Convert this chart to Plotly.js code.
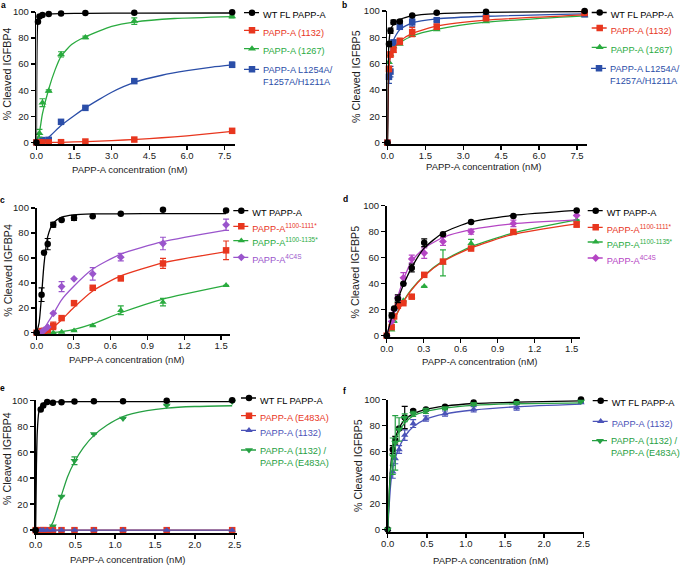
<!DOCTYPE html>
<html>
<head>
<meta charset="utf-8">
<script src="https://cdn.plot.ly/plotly-3.0.1.min.js"></script>
<style>html,body{margin:0;padding:0;background:#fff;}#chart{width:685px;height:565px;}</style>
</head>
<body>
<div id="chart"></div>
<script>
// ---------------- DATA ----------------
// Panel a / b (IGFBP4 / IGFBP5, full range)
const concAB = [0, 0.06, 0.12, 0.24, 0.49, 0.98, 1.95, 3.9, 7.8];
const a_wt    = [0, 92.5, 96.5, 97.7, 98.5, 98.8, 99.2, 99.4, 99.8];
const a_1132  = [0, 0, 0, 0, 0, 0.2, 0.7, 2.2, 8.9];
const a_1267  = [0, 1, 7, 30.5, 39.5, 67.5, 80.5, 93, 96.5];
const a_1267e = [0, 0, 3, 3, 0.8, 2, 1, 2.5, 1];
const a_tri   = [0, 0, 0.5, 1.8, 2, 15.8, 26.5, 47, 59.5];
const a_trie  = [0, 0, 0, 0, 0, 0, 0, 0, 2];
const fitA_wt_x   = [0, 0.01, 0.02, 0.04, 0.06, 0.1, 0.2, 0.5, 1, 2, 4, 7.8];
const fitA_wt_y   = [0, 45, 70, 88, 93.5, 96.8, 98.2, 98.6, 98.8, 99, 99.1, 99.2];
const fitA_1132_x = [0, 1, 2, 3, 4, 5, 6, 7, 7.8];
const fitA_1132_y = [0, 0.1, 0.7, 1.4, 2.4, 3.6, 5.1, 7, 8.5];
const fitA_1267_x = [0, 0.12, 0.24, 0.49, 0.75, 0.98, 1.4, 1.95, 3, 3.9, 5.5, 7.8];
const fitA_1267_y = [0, 8, 22, 41, 56, 66, 75, 81, 89, 92.3, 95, 96.5];
const fitA_tri_x  = [0, 0.24, 0.49, 0.98, 1.5, 1.95, 2.5, 3, 3.9, 5, 6, 7, 7.8];
const fitA_tri_y  = [0, 1, 4, 13, 20.5, 26.5, 33, 38.5, 46, 51.5, 55, 57.8, 59.5];

const b_wt    = [0, 75, 85, 91.5, 92, 96.5, 98.7, 99.5, 100];
const b_wte   = [0, 2, 2, 1.5, 1, 0.5, 0.5, 0.3, 0.3];
const b_1132  = [0, 56, 67, 70.5, 77, 84, 88, 94.5, 98.5];
const b_1132e = [0, 2, 2, 2, 2.5, 3.5, 2, 1, 0.5];
const b_1267  = [0, 61, 67, 73, 75, 81.5, 86, 92, 96.5];
const b_tri   = [0, 50, 54, 76, 88, 91.5, 93, 95.5, 97.5];
const b_trie  = [0, 5, 4, 2, 2, 3, 1, 1, 0.5];
const fitB_x      = [0, 0.03, 0.06, 0.12, 0.24, 0.49, 0.98, 1.95, 3.9, 7.8];
const fitB_wt_y   = [0, 55, 76, 85, 90, 93.5, 96.3, 98, 99, 99.5];
const fitB_1132_y = [0, 40, 58, 65, 71, 77, 83, 88.5, 93, 97];
const fitB_1267_y = [0, 45, 62, 68, 72.5, 76, 81, 86, 91.5, 96.3];
const fitB_tri_y  = [0, 35, 55, 68, 78, 86, 91, 94, 96, 97.8];

// Panel c / d (truncation mutants)
const concCD = [0, 0.04, 0.06, 0.09, 0.135, 0.203, 0.304, 0.456, 0.684, 1.027, 1.54];
const c_wt    = [0, 30.5, 64, 71, 86.5, 90.3, 92, 93.3, 95.3, 98.5, 98];
const c_wte   = [0, 5.5, 0, 4.5, 2, 0, 2, 0, 0, 0, 0];
const c_1111  = [0, 1.3, 1.5, 2, 5.5, 11.7, 23.7, 36, 43.5, 55.5, 66];
const c_1111e = [0, 0, 0, 0, 3, 0, 0, 0, 0, 4, 7.5];
const c_1135  = [0, 0, 0, 0, 0, 0.5, 1.6, 5.6, 18, 24.5, 38];
const c_1135e = [0, 0, 0, 0, 0, 0, 0, 0, 3.5, 3, 0];
const c_4c4s  = [0, 0.5, 2, 4.5, 15.5, 37, 43.2, 47.2, 60.5, 71.5, 86.5];
const c_4c4se = [0, 0, 0, 0, 0, 4, 0, 5, 3, 5, 4.5];
const fitC_x      = [0, 0.02, 0.04, 0.06, 0.09, 0.135, 0.2, 0.3, 0.456, 0.684, 1.027, 1.54];
const fitC_wt_y   = [0, 8, 30, 55, 77, 88, 92.5, 94.5, 95.2, 95.3, 95.4, 95.4];
const fitC_1111_y = [0, 0, 0.3, 0.8, 2, 4.5, 10, 20, 33.5, 45.5, 56, 65];
const fitC_1135_y = [0, 0, 0, 0, 0.1, 0.3, 0.9, 2.5, 7, 16, 27, 38];
const fitC_4c4s_y = [0, 0, 1, 3, 8, 15, 26, 37, 51, 63, 73, 82.3];

const d_wt    = [0, 15.6, 21, 28.5, 40, 52, 71.5, 78, 87.5, 92, 96.3];
const d_wte   = [0, 2, 0, 3, 0, 3, 3, 0, 0, 0, 0];
const d_1111  = [0, 6.6, 14.8, 23, 25, 30, 46.8, 57, 67, 79.8, 85.5];
const d_1111e = [0, 0, 0, 0, 0, 0, 0, 0, 0, 0, 2];
const d_1135  = [0, 4.5, 11, 27, 27, 30, 38, 56, 71, 79, 89];
const d_1135e = [0, 0, 0, 3, 0, 0, 0, 10, 3, 0, 0];
const d_4c4s  = [0, 11, 20, 29, 44.5, 59, 63.5, 72.5, 80, 86.3, 92.5];
const d_4c4se = [0, 0, 0, 2, 4, 3, 4, 3, 2, 2.5, 0];
const fitD_x      = [0, 0.04, 0.06, 0.09, 0.135, 0.2, 0.3, 0.456, 0.684, 1.027, 1.54];
const fitD_wt_y   = [0, 14, 20, 28, 39, 52, 67, 79, 87.5, 92.5, 96.3];
const fitD_1111_y = [0, 8, 12, 18, 26, 35, 45.5, 57, 67.5, 78, 86];
const fitD_1135_y = [0, 8, 12.5, 18.5, 26.5, 35.5, 46, 57.5, 68.5, 79, 89];
const fitD_4c4s_y = [0, 13, 20, 30, 43, 57, 67, 75.5, 81.5, 86, 89];

// Panel e / f (E483A complementation)
const concEF = [0, 0.064, 0.096, 0.145, 0.217, 0.325, 0.488, 0.732, 1.098, 1.647, 2.47];
const e_wt    = [0, 93, 96, 98.7, 98.2, 98.5, 99, 99.2, 99.2, 99.7, 100];
const e_e483a = [0, 0, 0, 0, 0, 0, 0, 0, 0, 0, 0];
const e_1132  = [0, 0, 0, 0, 0, 0, 0, 0, 0, 0, 0];
const e_combo = [0, 0, 0, 1, 3, 26, 53.5, 74, 86, 96, 99];
const e_comboe= [0, 0, 0, 0, 0, 0, 3, 0, 0, 0, 0];
const fitE_wt_x    = [0, 0.01, 0.02, 0.04, 0.064, 0.1, 0.15, 0.25, 0.5, 1, 1.5, 2, 2.47];
const fitE_wt_y    = [0, 50, 75, 91, 95.5, 97.8, 98.5, 98.8, 98.9, 99, 99, 99, 99];
const fitE_zero_x  = [0, 2.47];
const fitE_zero_y  = [0, 0];
const fitE_combo_x = [0, 0.1, 0.15, 0.217, 0.325, 0.4, 0.488, 0.6, 0.732, 0.9, 1.098, 1.4, 1.647, 2, 2.47];
const fitE_combo_y = [0, 0, 0.5, 6, 27, 41, 52.5, 63.5, 73, 81, 87.5, 92, 94, 95.2, 95.8];

const f_wt    = [0, 61.5, 68.7, 77.7, 86.2, 91.3, 92.3, 94.4, 97.7, 98.2, 100];
const f_wte   = [0, 3, 3, 0, 8.5, 1, 0, 0, 0, 0, 0];
const f_1132  = [0, 44.4, 54.6, 61.5, 72.6, 81.5, 85.4, 89.2, 92.6, 93.9, 97.7];
const f_1132e = [0, 5, 4, 3, 4, 3, 2, 2, 2, 2, 0];
const f_combo = [0, 56.4, 66.7, 77, 86, 89, 91.3, 93.3, 96.5, 97.5, 98.5];
const f_comboe= [0, 14, 21, 9, 3, 2, 2, 1, 1, 1, 0];
const fitF_x       = [0, 0.02, 0.04, 0.064, 0.096, 0.145, 0.217, 0.325, 0.488, 0.732, 1.098, 1.647, 2.47];
const fitF_wt_y    = [0, 30, 50, 62, 70, 78, 84.5, 89, 92.5, 95, 97, 98, 99];
const fitF_combo_y = [0, 28, 47, 58, 68, 75.5, 82, 87.5, 91, 93.5, 95.5, 96.8, 97.5];
const fitF_1132_y  = [0, 20, 36, 47, 55, 63, 71.5, 79, 85, 89, 92, 94.5, 96.5];

// Labels
const labA = ['WT FL PAPP-A', 'PAPP-A (1132)', 'PAPP-A (1267)', 'PAPP-A L1254A/<br>F1257A/H1211A'];
const labC = ['WT PAPP-A', 'PAPP-A<sup>1100-1111*</sup>', 'PAPP-A<sup>1100-1135*</sup>', 'PAPP-A<sup>4C4S</sup>'];
const labE = ['WT FL PAPP-A', 'PAPP-A (E483A)', 'PAPP-A (1132)', 'PAPP-A (1132) /<br>PAPP-A (E483A)'];
const labF = ['WT FL PAPP-A', 'PAPP-A (1132)', 'PAPP-A (1132) /<br>PAPP-A (E483A)'];
const xTitle = 'PAPP-A concentration (nM)';
const yTitles = ['% Cleaved IGFBP4', '% Cleaved IGFBP5', '% Cleaved IGFBP4', '% Cleaved IGFBP5', '% Cleaved IGFBP4', '% Cleaved IGFBP5'];
const panelLetters = ['a', 'b', 'c', 'd', 'e', 'f'];

// ---------------- STYLE / LAYOUT ----------------
const W = 685, H = 565;
const FONT = 'Liberation Sans, Arial, Helvetica, sans-serif';
const BLACK = '#000000', RED = '#e8361e', GREEN = '#2aab3f', BLUE = '#2b4ea8',
      PURPLE = '#9a55cc', MAGENTA = '#b545c4', LAV = '#4b53b8', GREEN2 = '#26a043';

const px2x = p => p / W;
const px2y = p => 1 - p / H;

// panel geometry in pixels: [left, right, top, bottom]; title / letter positions in pixels
const panels = [
  {box: [36.5, 235, 11, 143],        xr: [0, 7.9],  yr: [-1, 100],   dt: 1.5, lp: [4, 4],       xt: [129.7, 168.3], yt: [7.3, 73]},
  {box: [388, 588, 10, 143.3],       xr: [0, 7.9],  yr: [-1, 100],   dt: 1.5, lp: [345, 4.5],   xt: [483.8, 165.7], yt: [356.7, 76]},
  {box: [36.7, 230.1, 207.3, 333.3], xr: [0, 1.57], yr: [-0.8, 100], dt: 0.3, lp: [3, 199],     xt: [127, 359],     yt: [7.3, 270]},
  {box: [387.3, 581.2, 205, 336.6],  xr: [0, 1.57], yr: [-1, 100],   dt: 0.3, lp: [346, 198],   xt: [480.5, 360.7], yt: [356, 271.5]},
  {box: [35.7, 237.3, 400, 532.7],   xr: [0, 2.53], yr: [-2, 100],   dt: 0.5, lp: [3, 388],     xt: [127.7, 559],   yt: [6.7, 458]},
  {box: [388.3, 585, 399.3, 531.7],  xr: [0, 2.51], yr: [-1.8, 100], dt: 0.5, lp: [345.5, 390.5], xt: [491.3, 560.3], yt: [358.3, 465]}
];

const layout = {
  width: W, height: H,
  margin: {l: 0, r: 0, t: 0, b: 0, pad: 0},
  paper_bgcolor: '#ffffff', plot_bgcolor: 'rgba(0,0,0,0)',
  font: {family: FONT, size: 9.5, color: '#1a1a1a'},
  showlegend: true,
  annotations: []
};

panels.forEach((p, i) => {
  const n = i === 0 ? '' : String(i + 1);
  const common = {
    showline: true, linewidth: 1.8, linecolor: '#000', mirror: false,
    ticks: 'outside', ticklen: 4, tickwidth: 1.5, tickcolor: '#000',
    showgrid: false, zeroline: false, fixedrange: true,
    tickfont: {family: FONT, size: 9.5, color: '#1a1a1a'}
  };
  layout['xaxis' + n] = Object.assign({}, common, {
    domain: [px2x(p.box[0]), px2x(p.box[1])],
    range: p.xr, anchor: 'y' + n, tickmode: 'linear', tick0: 0, dtick: p.dt,
    tickformat: '.1f', ticklabelstandoff: -2
  });
  layout['yaxis' + n] = Object.assign({}, common, {
    domain: [px2y(p.box[3]), px2y(p.box[2])],
    range: p.yr, anchor: 'x' + n, tickmode: 'linear', tick0: 0, dtick: 20
  });
  layout.annotations.push({
    xref: 'paper', yref: 'paper', x: px2x(p.lp[0]), y: px2y(p.lp[1]),
    xanchor: 'center', yanchor: 'middle', showarrow: false,
    text: '<b>' + panelLetters[i] + '</b>', font: {family: FONT, size: 8.5, color: '#000'}
  });
  layout.annotations.push({
    xref: 'paper', yref: 'paper', x: px2x(p.xt[0]), y: px2y(p.xt[1]),
    xanchor: 'center', yanchor: 'middle', showarrow: false,
    text: xTitle, font: {family: FONT, size: 9.5, color: '#1a1a1a'}
  });
  layout.annotations.push({
    xref: 'paper', yref: 'paper', x: px2x(p.yt[0]), y: px2y(p.yt[1]),
    xanchor: 'center', yanchor: 'middle', showarrow: false, textangle: -90,
    text: yTitles[i], font: {family: FONT, size: 10.7, color: '#1a1a1a'}
  });
});

const traces = [];
let legendCount = 0;
function addLegend(textX, centerY, twoLine) {
  legendCount += 1;
  const key = legendCount === 1 ? 'legend' : 'legend' + legendCount;
  layout[key] = {
    x: px2x(textX - 40), y: px2y(centerY + (twoLine ? 6 : 0)),
    xanchor: 'left', yanchor: 'middle', orientation: 'v',
    bgcolor: 'rgba(0,0,0,0)', borderwidth: 0, itemwidth: 30, valign: 'top',
    font: {family: FONT, size: 9.2, color: '#000'}, itemclick: false, itemdoubleclick: false
  };
  return key;
}

function series(i, x, y, err, fx, fy, color, symbol, size, label, legX, legY) {
  const n = i === 0 ? '' : String(i + 1);
  const xa = 'x' + n, ya = 'y' + n;
  traces.push({
    type: 'scatter', mode: 'lines', x: fx, y: fy, xaxis: xa, yaxis: ya,
    line: {color: color, width: 1.3, shape: 'spline', smoothing: 0.6},
    showlegend: false, hoverinfo: 'skip', cliponaxis: false
  });
  const pt = {
    type: 'scatter', mode: 'markers', x: x, y: y, xaxis: xa, yaxis: ya,
    marker: {color: color, symbol: symbol, size: size, line: {width: 0}},
    showlegend: false, hoverinfo: 'skip', cliponaxis: false
  };
  if (err) pt.error_y = {type: 'data', array: err, visible: true, color: color, thickness: 1.2, width: 3};
  traces.push(pt);
  const twoLine = label.indexOf('<br>') >= 0;
  const key = addLegend(legX, legY, twoLine);
  const txt = color === BLACK ? label : '<span style="color:' + color + '">' + label + '</span>';
  traces.push({
    type: 'scatter', mode: 'lines+markers', x: [null], y: [null], xaxis: xa, yaxis: ya,
    name: txt, legend: key, showlegend: true, hoverinfo: 'skip',
    line: {color: color, width: 1.3}, marker: {color: color, symbol: symbol, size: size}
  });
}

// panel a
series(0, concAB, a_tri, a_trie, fitA_tri_x, fitA_tri_y, BLUE, 'square', 6.5, labA[3], 263, 69.3);
series(0, concAB, a_1267, a_1267e, fitA_1267_x, fitA_1267_y, GREEN, 'triangle-up', 7, labA[2], 263, 50.7);
series(0, concAB, a_1132, null, fitA_1132_x, fitA_1132_y, RED, 'square', 6.5, labA[1], 263, 32.3);
series(0, concAB, a_wt, null, fitA_wt_x, fitA_wt_y, BLACK, 'circle', 6.5, labA[0], 263, 14.7);
// panel b
series(1, concAB, b_1267, null, fitB_x, fitB_1267_y, GREEN, 'triangle-up', 7, labA[2], 610.7, 49.3);
series(1, concAB, b_tri, b_trie, fitB_x, fitB_tri_y, BLUE, 'square', 6.5, labA[3], 610.7, 68.3);
series(1, concAB, b_1132, b_1132e, fitB_x, fitB_1132_y, RED, 'square', 6.5, labA[1], 610.7, 30);
series(1, concAB, b_wt, b_wte, fitB_x, fitB_wt_y, BLACK, 'circle', 6.5, labA[0], 610.7, 14);
// panel c
series(2, concCD, c_1135, c_1135e, fitC_x, fitC_1135_y, GREEN, 'triangle-up', 6.5, labC[2], 252.3, 242.7);
series(2, concCD, c_1111, c_1111e, fitC_x, fitC_1111_y, RED, 'square', 6.5, labC[1], 252.3, 228.3);
series(2, concCD, c_4c4s, c_4c4se, fitC_x, fitC_4c4s_y, PURPLE, 'diamond', 6, labC[3], 252.3, 259.3);
series(2, concCD, c_wt, c_wte, fitC_x, fitC_wt_y, BLACK, 'circle', 6.5, labC[0], 252.3, 212.7);
// panel d
series(3, concCD, d_1135, d_1135e, fitD_x, fitD_1135_y, GREEN, 'triangle-up', 6.5, labC[2], 606.7, 244);
series(3, concCD, d_1111, d_1111e, fitD_x, fitD_1111_y, RED, 'square', 6.5, labC[1], 606.7, 229.3);
series(3, concCD, d_4c4s, d_4c4se, fitD_x, fitD_4c4s_y, MAGENTA, 'diamond', 6, labC[3], 606.7, 260);
series(3, concCD, d_wt, d_wte, fitD_x, fitD_wt_y, BLACK, 'circle', 6.5, labC[0], 606.7, 212.7);
// panel e
series(4, concEF, e_combo, e_comboe, fitE_combo_x, fitE_combo_y, GREEN2, 'triangle-down', 7, labE[3], 260, 450);
series(4, concEF, e_e483a, null, fitE_zero_x, fitE_zero_y, RED, 'square', 6.5, labE[1], 260, 417.7);
series(4, concEF, e_1132, null, fitE_zero_x, fitE_zero_y, LAV, 'triangle-up', 6.5, labE[2], 260, 432.3);
series(4, concEF, e_wt, null, fitE_wt_x, fitE_wt_y, BLACK, 'circle', 6.5, labE[0], 260, 400);
// panel f
series(5, concEF, f_1132, f_1132e, fitF_x, fitF_1132_y, LAV, 'triangle-up', 6.5, labF[1], 611.7, 423.3);
series(5, concEF, f_wt, f_wte, fitF_x, fitF_wt_y, BLACK, 'circle', 6.5, labF[0], 611.7, 402.7);
series(5, concEF, f_combo, f_comboe, fitF_x, fitF_combo_y, GREEN2, 'triangle-down', 7, labF[2], 611.7, 440.7);

// shorter legend key (GraphPad style): line segment and marker just left of the label
function compactLegendKeys(gd) {
  gd.querySelectorAll('.infolayer g.traces').forEach(function (tr) {
    tr.querySelectorAll('.legendlines path').forEach(function (p) { p.setAttribute('d', 'M21,0h15'); });
    tr.querySelectorAll('.legendpoints path.scatterpts').forEach(function (p) { p.setAttribute('transform', 'translate(29,0)'); });
  });
}

Plotly.newPlot('chart', traces, layout, {staticPlot: true, displayModeBar: false}).then(function (gd) {
  compactLegendKeys(gd);
  gd.on('plotly_afterplot', function () { compactLegendKeys(gd); });
});
</script>
</body>
</html>
